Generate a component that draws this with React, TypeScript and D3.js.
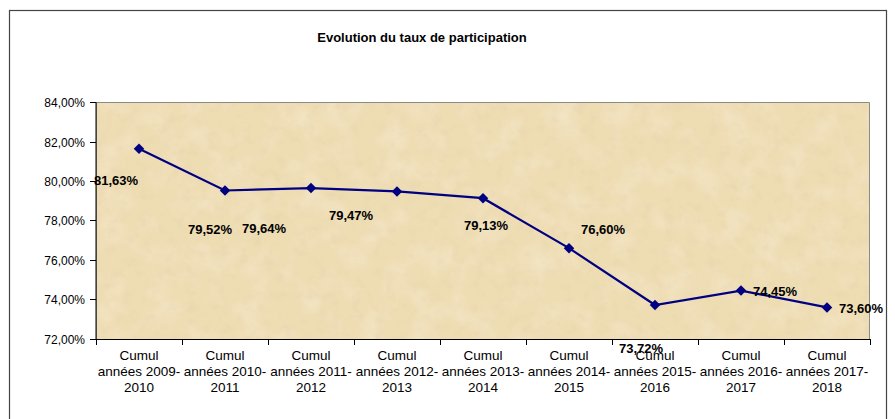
import React from 'react';
import * as d3 from 'd3';

const WIDTH = 895;
const HEIGHT = 419;

const categories = [
  ['Cumul', 'années 2009-', '2010'],
  ['Cumul', 'années 2010-', '2011'],
  ['Cumul', 'années 2011-', '2012'],
  ['Cumul', 'années 2012-', '2013'],
  ['Cumul', 'années 2013-', '2014'],
  ['Cumul', 'années 2014-', '2015'],
  ['Cumul', 'années 2015-', '2016'],
  ['Cumul', 'années 2016-', '2017'],
  ['Cumul', 'années 2017-', '2018'],
];
const values = [0.8163, 0.7952, 0.7964, 0.7947, 0.7913, 0.766, 0.7372, 0.7445, 0.736];
const yTicks = [0.72, 0.74, 0.76, 0.78, 0.8, 0.82, 0.84];
const title = 'Evolution du taux de participation';

// where Excel dropped the data labels (label centre relative to the marker, px)
const labelOffset = [
  [-23, 32],
  [-15, 39],
  [-47, 40],
  [-46, 24],
  [3, 27],
  [34, -19],
  [-14, 43],
  [34, 1],
  [34, 1],
];

const margin = { l: 96, t: 102, r: 25, b: 80 };
const plotW = WIDTH - margin.l - margin.r;
const plotH = HEIGHT - margin.t - margin.b;

const fmt = (v: number) => `${(v * 100).toFixed(2).replace('.', ',')}%`;

const App = () => {
  const x = d3
    .scaleBand<number>()
    .domain(values.map((_, i) => i))
    .range([0, plotW]);
  const y = d3.scaleLinear().domain([0.72, 0.84]).range([plotH, 0]);
  const cx = (i: number) => (x(i) as number) + x.bandwidth() / 2;

  const line = d3
    .line<number>()
    .x((_, i) => cx(i))
    .y((d) => y(d));

  const diamond = d3.symbol().type(d3.symbolDiamond2).size(70)();

  return (
    <div style={{ position: 'absolute', left: 0, top: 0 }}>
      <svg width={WIDTH} height={HEIGHT} style={{ display: 'block', fontFamily: 'Arial, "Liberation Sans", sans-serif' }}>
        <defs>
          <filter id="paper" x="0" y="0" width="100%" height="100%">
            <feTurbulence type="fractalNoise" baseFrequency="0.035" numOctaves={4} seed={7} />
            <feColorMatrix
              type="matrix"
              values="0 0 0 0 1  0 0 0 0 0.97  0 0 0 0 0.88  1.1 0 0 0 -0.5"
            />
          </filter>
          <filter id="grain" x="0" y="0" width="100%" height="100%">
            <feTurbulence type="fractalNoise" baseFrequency="0.09" numOctaves={3} seed={3} />
            <feColorMatrix
              type="matrix"
              values="0 0 0 0 0.72  0 0 0 0 0.6  0 0 0 0 0.38  0 1.2 0 0 -0.62"
            />
          </filter>
        </defs>
        <rect x={0} y={0} width={WIDTH} height={HEIGHT} fill="#fff" />
        <rect x={9.5} y={10.5} width={877} height={420} fill="#fff" stroke="#444" strokeWidth={1.2} />
        <text x={422} y={42} textAnchor="middle" fontSize={13} fontWeight="bold">
          {title}
        </text>
        <g transform={`translate(${margin.l}, ${margin.t})`}>
          <rect x={0} y={0} width={plotW} height={plotH} fill="#eedcb3" />
          <rect x={0} y={0} width={plotW} height={plotH} filter="url(#paper)" opacity={0.55} />
          <rect x={0} y={0} width={plotW} height={plotH} filter="url(#grain)" opacity={0.55} />
          <path d={`M0.5,${plotH} V0.5 H${plotW - 0.5} V${plotH}`} fill="none" stroke="#8a8a8a" />
          {/* y axis */}
          <line x1={0} x2={0} y1={0} y2={plotH} stroke="#000" />
          {yTicks.map((t) => (
            <g key={t} transform={`translate(0, ${Math.round(y(t)) + 0.5})`}>
              <line x1={-6} x2={0} stroke="#000" />
              <text x={-11} dy="0.35em" textAnchor="end" fontSize={12}>
                {fmt(t)}
              </text>
            </g>
          ))}
          {/* x axis */}
          <line x1={0} x2={plotW} y1={plotH + 0.5} y2={plotH + 0.5} stroke="#000" />
          {d3.range(values.length + 1).map((i) => (
            <line
              key={i}
              x1={i * x.step() + 0.5}
              x2={i * x.step() + 0.5}
              y1={plotH}
              y2={plotH + 6}
              stroke="#000"
            />
          ))}
          {categories.map((lines, i) => (
            <text key={i} x={cx(i)} textAnchor="middle" fontSize={13.5}>
              {lines.map((s, j) => (
                <tspan key={j} x={cx(i)} y={plotH + 21 + j * 16}>
                  {s}
                </tspan>
              ))}
            </text>
          ))}
          <path d={line(values) as string} fill="none" stroke="#000080" strokeWidth={2.2} />
          {values.map((v, i) => (
            <path key={i} d={diamond as string} transform={`translate(${cx(i)}, ${y(v)})`} fill="#000080" />
          ))}
          {values.map((v, i) => (
            <text
              key={i}
              x={cx(i) + labelOffset[i][0]}
              y={y(v) + labelOffset[i][1]}
              dy="0.35em"
              textAnchor="middle"
              fontSize={13}
              fontWeight="bold"
            >
              {fmt(v)}
            </text>
          ))}
        </g>
      </svg>
    </div>
  );
};

export default App;
